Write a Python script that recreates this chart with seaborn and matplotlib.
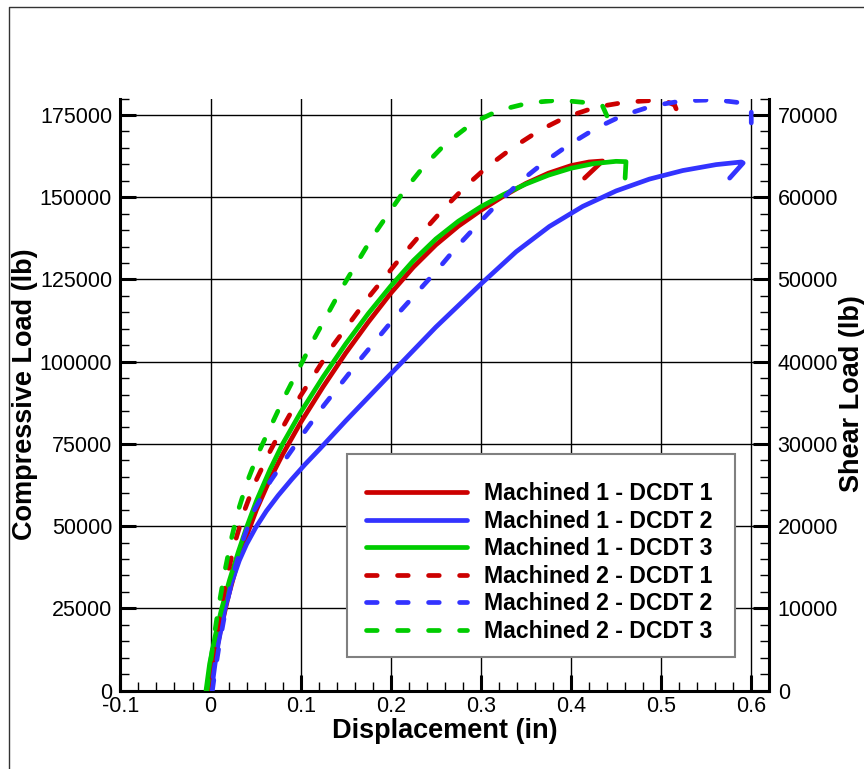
import numpy as np
import pandas as pd
import matplotlib
matplotlib.use("Agg")
import matplotlib.pyplot as plt
import seaborn as sns
from matplotlib.ticker import MultipleLocator, FixedLocator, FixedFormatter
from matplotlib.lines import Line2D
from matplotlib.patches import Rectangle

# ---------------- data ----------------
series_names = ["Machined 1 - DCDT 1", "Machined 1 - DCDT 2", "Machined 1 - DCDT 3",
                "Machined 2 - DCDT 1", "Machined 2 - DCDT 2", "Machined 2 - DCDT 3"]

m1d1_x = [-0.004, 0.002, 0.0066, 0.012, 0.0196, 0.029, 0.040, 0.051, 0.066, 0.080, 0.100,
          0.125, 0.150, 0.175, 0.200, 0.225, 0.250, 0.275, 0.300, 0.325, 0.350, 0.375,
          0.400, 0.420, 0.435, 0.415]
m1d1_y = [0, 6000, 12200, 19500, 28500, 38000, 47000, 55000, 64300, 71800, 81500,
          92400, 102600, 112000, 120800, 128700, 135500, 141200, 146000, 150300, 154200, 157300,
          159600, 160700, 161000, 155800]

m1d2_x = [0.0015, 0.005, 0.0085, 0.016, 0.023, 0.032, 0.040, 0.050, 0.062, 0.075, 0.090,
          0.105, 0.121, 0.150, 0.200, 0.250, 0.300, 0.339, 0.376, 0.413, 0.450, 0.487,
          0.524, 0.561, 0.589, 0.591, 0.576]
m1d2_y = [1000, 8100, 14200, 24900, 32500, 39600, 44500, 49500, 54600, 59300, 64200,
          68800, 73400, 82000, 96300, 110500, 123600, 133400, 141100, 147200, 151900, 155500,
          158100, 159900, 160700, 160400, 155800]

m1d3_x = [-0.005, -0.001, 0.005, 0.012, 0.021, 0.031, 0.040, 0.051, 0.066, 0.080, 0.100,
          0.125, 0.150, 0.175, 0.200, 0.225, 0.250, 0.275, 0.300, 0.325, 0.350, 0.375,
          0.400, 0.425, 0.450, 0.461, 0.460]
m1d3_y = [0, 8100, 16300, 24500, 33500, 42300, 49600, 57700, 67200, 75000, 84600,
          95400, 105400, 114600, 123000, 130700, 137300, 142700, 147100, 150800, 154000, 156700,
          158800, 160200, 160900, 160800, 155800]

m2d1_x = [-0.003, 0.005, 0.010, 0.017, 0.027, 0.038, 0.049, 0.065, 0.080, 0.098, 0.135,
          0.176, 0.213, 0.235, 0.257, 0.283, 0.307, 0.335, 0.365, 0.394, 0.428, 0.461,
          0.490, 0.505, 0.515, 0.517, 0.507]
m2d1_y = [0, 12000, 22000, 33000, 45000, 55000, 63000, 72200, 80000, 88800, 104600,
          119800, 132300, 139300, 146000, 153300, 159200, 165000, 170300, 174300, 177400, 178900,
          179400, 179200, 178000, 176600, 174000]

m2d2_x = [0.002, 0.004, 0.010, 0.018, 0.027, 0.037, 0.048, 0.066, 0.086, 0.106, 0.126,
          0.167, 0.209, 0.252, 0.272, 0.294, 0.320, 0.346, 0.372, 0.398, 0.428, 0.457,
          0.491, 0.524, 0.561, 0.585, 0.600, 0.600, 0.600]
m2d2_y = [0, 4000, 14500, 26500, 37000, 46500, 54600, 63500, 71500, 79300, 86800,
          101000, 114900, 128000, 134500, 141000, 148500, 155300, 161000, 166000, 171000, 174800,
          177800, 179300, 179600, 178800, 177400, 173000, 170500]

m2d3_x = [-0.004, 0.000, 0.004, 0.009, 0.016, 0.023, 0.031, 0.041, 0.054, 0.083, 0.115,
          0.146, 0.181, 0.215, 0.237, 0.261, 0.291, 0.320, 0.354, 0.387, 0.415, 0.435,
          0.441, 0.444]
m2d3_y = [0, 8500, 16500, 25500, 36500, 46000, 55000, 63700, 72800, 89800, 107000,
          122500, 138500, 152000, 159500, 166300, 172600, 176400, 178700, 179500, 178800, 177700,
          174000, 170000]

x_ticks = [-0.1, 0.0, 0.1, 0.2, 0.3, 0.4, 0.5, 0.6]
x_tick_labels = ["-0.1", "0", "0.1", "0.2", "0.3", "0.4", "0.5", "0.6"]
y_left_ticks = [0, 25000, 50000, 75000, 100000, 125000, 150000, 175000]
y_right_ticks = [0, 10000, 20000, 30000, 40000, 50000, 60000, 70000]

xs = [m1d1_x, m1d2_x, m1d3_x, m2d1_x, m2d2_x, m2d3_x]
ys = [m1d1_y, m1d2_y, m1d3_y, m2d1_y, m2d2_y, m2d3_y]
frames = []
for name, x, y in zip(series_names, xs, ys):
    frames.append(pd.DataFrame({"x": x, "y": y, "series": name}))
df = pd.concat(frames, ignore_index=True)

RED, BLUE, GREEN = "#CC0000", "#3333FF", "#00CC00"
palette = dict(zip(series_names, [RED, BLUE, GREEN, RED, BLUE, GREEN]))
DASH = (2.27, 4.3)
dashes = dict(zip(series_names, ["", "", "", DASH, DASH, DASH]))
LW = 3.4

# ---------------- figure ----------------
plt.rcParams["font.family"] = ["Liberation Sans", "DejaVu Sans"]
W, H = 864, 769
fig = plt.figure(figsize=(W / 100, H / 100), dpi=100)
L, R, T, B = 120.4, 769.3, 98.5, 690.6
ax = fig.add_axes([L / W, 1 - B / H, (R - L) / W, (B - T) / H])

sns.lineplot(data=df, x="x", y="y", hue="series", style="series",
             palette=palette, dashes=dashes, sort=False, estimator=None,
             lw=LW, solid_capstyle="round", dash_capstyle="round",
             solid_joinstyle="round", legend=False, ax=ax, zorder=3)

ax.set_xlim(-0.1, 0.62)
ax.set_ylim(0, 180000)
ax.xaxis.set_major_locator(FixedLocator(x_ticks))
ax.xaxis.set_major_formatter(FixedFormatter(x_tick_labels))
ax.xaxis.set_minor_locator(MultipleLocator(0.02))
ax.yaxis.set_major_locator(FixedLocator(y_left_ticks))
ax.yaxis.set_major_formatter(FixedFormatter([str(v) for v in y_left_ticks]))
ax.yaxis.set_minor_locator(MultipleLocator(5000))
ax.set_xlabel("")
ax.set_ylabel("")
ax.grid(True, which="major", color="black", lw=1.0)
ax.set_axisbelow(True)

for s in ["top", "right"]:
    ax.spines[s].set_visible(False)
for s in ["left", "bottom"]:
    ax.spines[s].set_linewidth(2.2)
    ax.spines[s].set_color("black")

ax.tick_params(which="major", direction="in", length=11.5, width=2.2,
               labelsize=15.5, pad=6, colors="black", top=False, right=False)
ax.tick_params(axis="x", which="major", pad=4)
ax.tick_params(which="minor", direction="in", length=6.5, width=1.0,
               top=False, right=False)

ax2 = ax.twinx()
ax2.set_ylim(0, 72000)
ax2.yaxis.set_major_locator(FixedLocator(y_right_ticks))
ax2.yaxis.set_major_formatter(FixedFormatter([str(v) for v in y_right_ticks]))
ax2.yaxis.set_minor_locator(MultipleLocator(2000))
for s in ["top", "left", "bottom"]:
    ax2.spines[s].set_visible(False)
ax2.spines["right"].set_linewidth(2.2)
ax2.tick_params(which="major", direction="in", length=11.5, width=2.2,
                labelsize=15.5, pad=6)
ax2.tick_params(which="minor", direction="in", length=6.5, width=1.0)

# legend box (drawn separately) and legend entries
ax2.add_patch(Rectangle((0.3487, 0.0567), 0.9471 - 0.3487, 0.3996 - 0.0567,
                        transform=ax2.transAxes, facecolor="white", edgecolor="#808080",
                        lw=1.5, zorder=4.5, clip_on=False))
handles = [Line2D([], [], color=palette[n], lw=LW, solid_capstyle="round",
                  dash_capstyle="round",
                  linestyle="-" if dashes[n] == "" else (0, DASH))
           for n in series_names]
leg = ax2.legend(handles, series_names, loc="upper left",
                 bbox_to_anchor=(0.378, 0.3523),
                 prop={"weight": "bold", "size": 16.6}, frameon=False,
                 borderpad=0, labelspacing=0.2,
                 handlelength=4.4, handletextpad=0.72, borderaxespad=0)
leg.set_zorder(6)

# axis labels
fig.text(445 / W, 1 - 731 / H, "Displacement (in)", ha="center", va="center",
         fontsize=19.5, fontweight="bold")
fig.text(25 / W, 1 - 394 / H, "Compressive Load (lb)", ha="center", va="center",
         rotation=90, fontsize=19.5, fontweight="bold")
fig.text(852 / W, 1 - 394 / H, "Shear Load (lb)", ha="center", va="center",
         rotation=90, fontsize=19.5, fontweight="bold")

# outer frame
fig.add_artist(Line2D([9 / W, 9 / W, 1.01], [-0.01, 1 - 7 / H, 1 - 7 / H],
                      transform=fig.transFigure, color="#333333", lw=1.0))

fig.savefig("out.png", dpi=100)
